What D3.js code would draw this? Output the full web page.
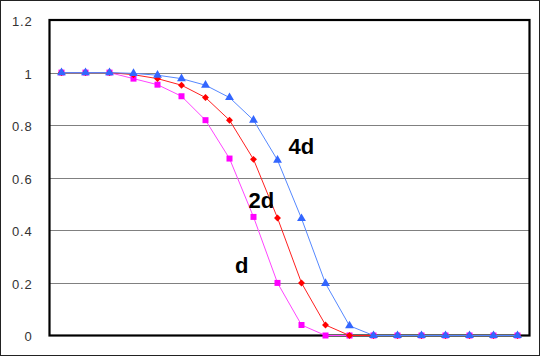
<!DOCTYPE html>
<html><head><meta charset="utf-8">
<script src="https://cdn.jsdelivr.net/npm/d3@7"></script>
<style>
html,body{margin:0;padding:0;background:#fff;}
svg{display:block;}
</style></head>
<body>
<svg id="chart" width="540" height="356"></svg>
<script>
const categories = ["1","2","3","4","5","6","7","8","9","10","11","12","13","14","15","16","17","18","19","20"];
const seriesD  = [1,1,1,0.977,0.954,0.91,0.819,0.673,0.451,0.2,0.04,0,0,0,0,0,0,0,0,0];
const series2d = [1,1,1,0.992,0.977,0.952,0.905,0.819,0.67,0.447,0.2,0.04,0,0,0,0,0,0,0,0];
const series4d = [1,1,1,0.997,0.99,0.977,0.952,0.905,0.819,0.667,0.445,0.198,0.037,0,0,0,0,0,0,0];
const yTickValues = [0,0.2,0.4,0.6,0.8,1,1.2];
const yTickLabels = ["0","0.2","0.4","0.6","0.8","1","1.2"];
const labelTexts = ["d","2d","4d"];
const labelXIdx = [7.23, 7.79, 9.46];
const labelYVal = [0.237, 0.486, 0.692];

(function(){
const svg = d3.select("#chart");
const W = 540, H = 356;
const pLeft = 49.5, pRight = 529.5, pTop = 20, pBottom = 335.5;

svg.append("rect").attr("x",0.5).attr("y",0.5).attr("width",W-1).attr("height",H-1)
  .attr("fill","#fff").attr("stroke","#222").attr("stroke-width",1);

const x = d3.scaleBand().domain(categories).range([pLeft, pRight]).padding(0);
const y = d3.scaleLinear().domain([0,1.2]).range([pBottom, pTop]);
const cx = c => x(c) + x.bandwidth()/2;
const ax = idx => x(categories[0]) + x.bandwidth()/2 + idx * x.step();

// gridlines
svg.append("g").selectAll("line").data(yTickValues.filter(v => v>0 && v<1.2)).join("line")
  .attr("x1", pLeft).attr("x2", pRight)
  .attr("y1", d => Math.round(y(d))+0.5).attr("y2", d => Math.round(y(d))+0.5)
  .attr("stroke","#808080").attr("stroke-width",1.2);

// y axis labels
const yAxis = d3.axisLeft(y).tickValues(yTickValues).tickSize(0).tickPadding(0)
  .tickFormat((d,i) => yTickLabels[i]);
const gy = svg.append("g").attr("transform","translate(32.5,0)").call(yAxis);
gy.select(".domain").remove();
gy.selectAll("text").attr("font-family","Liberation Sans, Arial, sans-serif")
  .attr("font-size","13px").attr("fill","#333").attr("dy","0.42em")
  .attr("letter-spacing","0.8px");

// plot border
svg.append("rect").attr("x",pLeft).attr("y",pTop).attr("width",pRight-pLeft).attr("height",pBottom-pTop)
  .attr("fill","none").attr("stroke","#000").attr("stroke-width",2.2);

const series = [
  {name:"d", values:seriesD, color:"#ff00ff", line:"#ff44ff", shape:d3.symbolSquare, size:36, rot:0},
  {name:"2d", values:series2d, color:"#ff0000", line:"#ff2020", shape:d3.symbolSquare, size:24, rot:45},
  {name:"4d", values:series4d, color:"#3366ff", line:"#5588ff", shape:d3.symbolTriangle, size:34, rot:0}
];

const lineGen = d3.line().x((d,i)=>cx(categories[i])).y(d=>y(d));
series.forEach(s => {
  const g = svg.append("g");
  g.append("path").datum(s.values).attr("d", lineGen)
    .attr("fill","none").attr("stroke", s.line).attr("stroke-width",1);
  g.selectAll("path.m").data(s.values).join("path").attr("class","m")
    .attr("transform",(d,i)=>`translate(${cx(categories[i])},${y(d)}) rotate(${s.rot})`)
    .attr("d", d3.symbol().type(s.shape).size(s.size))
    .attr("fill", s.color);
});

// labels
svg.append("g").selectAll("text").data(labelTexts).join("text")
  .attr("x",(d,i)=>ax(labelXIdx[i])).attr("y",(d,i)=>y(labelYVal[i]))
  .attr("font-family","Liberation Sans, Arial, sans-serif").attr("font-weight","bold")
  .attr("font-size","22px").attr("fill","#000").text(d=>d);
})();
</script>
</body></html>
